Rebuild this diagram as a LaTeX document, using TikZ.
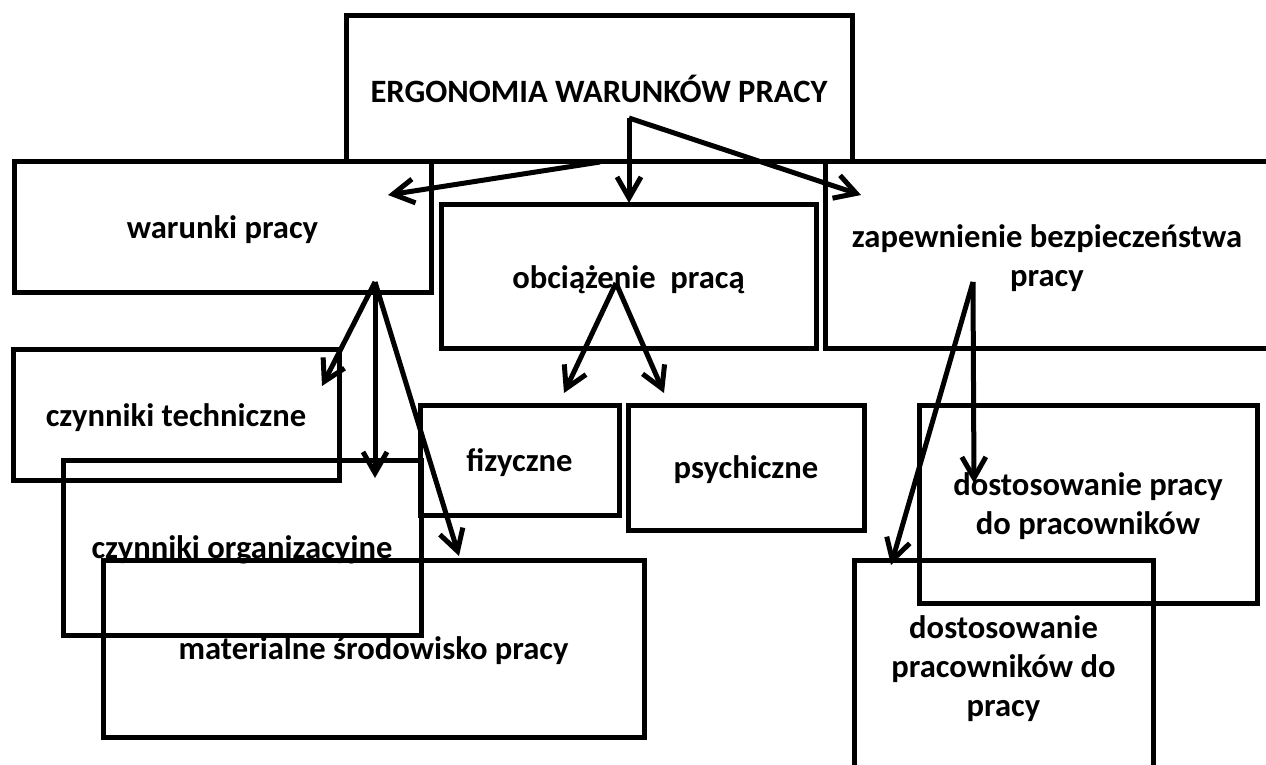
\documentclass[tikz,border=0pt]{standalone}
\usepackage{fontspec}
\setmainfont{Carlito}
\usetikzlibrary{arrows.meta}
\begin{document}
\begin{tikzpicture}[x=0.5pt,y=-0.5pt,
  box/.style={draw, line width=2.5pt, inner sep=0pt, align=center, text depth=0pt,
    font=\bfseries\fontsize{16.3pt}{19.5pt}\selectfont},
  conn/.style={line width=2.5pt, -{Straight Barb[length=10.5pt,width=12pt]}}]
\useasboundingbox (0,0) rectangle (1266,765);
\clip (0,0) rectangle (1266,765);
% boxes
\node[box, minimum width=253pt, minimum height=73pt] (top) at (599,89) {ERGONOMIA WARUNKÓW PRACY};
\node[box, minimum width=208.5pt, minimum height=65.5pt] (war) at (222.5,227.5) {warunki pracy};
\node[box, minimum width=187.5pt, minimum height=72pt] (obc) at (628.5,277) {obciążenie\ \ pracą};
\node[box, minimum width=222pt, minimum height=93.5pt] (zap) at (1047,255.5) {zapewnienie bezpieczeństwa\\pracy};
\node[box, minimum width=163pt, minimum height=65pt] (tech) at (176,415) {czynniki techniczne};
\node[box, minimum width=179pt, minimum height=87.5pt] (org) at (242,547.5) {czynniki organizacyjne};
\node[box, minimum width=270.5pt, minimum height=88.5pt] (mat) at (373.5,648.5) {materialne środowisko pracy};
\node[box, minimum width=99.5pt, minimum height=55pt] (fiz) at (519.5,460) {fizyczne};
\node[box, minimum width=118pt, minimum height=62.5pt] (psy) at (746,467.5) {psychiczne};
\node[box, minimum width=169pt, minimum height=99pt] (dpp) at (1088,504) {dostosowanie pracy\\do pracowników};
\node[box, minimum width=149.5pt, minimum height=106pt] (dpw) at (1003.5,666) {dostosowanie\\pracowników do\\pracy};
% connector anchor points
\coordinate (topS) at (629,118);
\coordinate (topL) at (600,162);
\coordinate (warS) at (375,282);
\coordinate (obcS) at (616,283);
\coordinate (zapS) at (973,282);
\coordinate (warT) at (388,195);
\coordinate (obcT) at (629,203);
\coordinate (zapT) at (861,195);
\coordinate (techT) at (322,386);
\coordinate (orgT) at (375,478);
\coordinate (matT) at (459,556);
\coordinate (fizT) at (564,393);
\coordinate (psyT) at (664,393);
\coordinate (dppT) at (974,483);
\coordinate (dpwT) at (891,565);
% connectors
\draw[conn] (topS) -- (obcT);
\draw[conn] (topS) -- (zapT);
\draw[conn] (topL) -- (warT);
\draw[conn] (warS) -- (techT);
\draw[conn] (warS) -- (orgT);
\draw[conn] (warS) -- (matT);
\draw[conn] (obcS) -- (fizT);
\draw[conn] (obcS) -- (psyT);
\draw[conn] (zapS) -- (dppT);
\draw[conn] (zapS) -- (dpwT);
\end{tikzpicture}
\end{document}
